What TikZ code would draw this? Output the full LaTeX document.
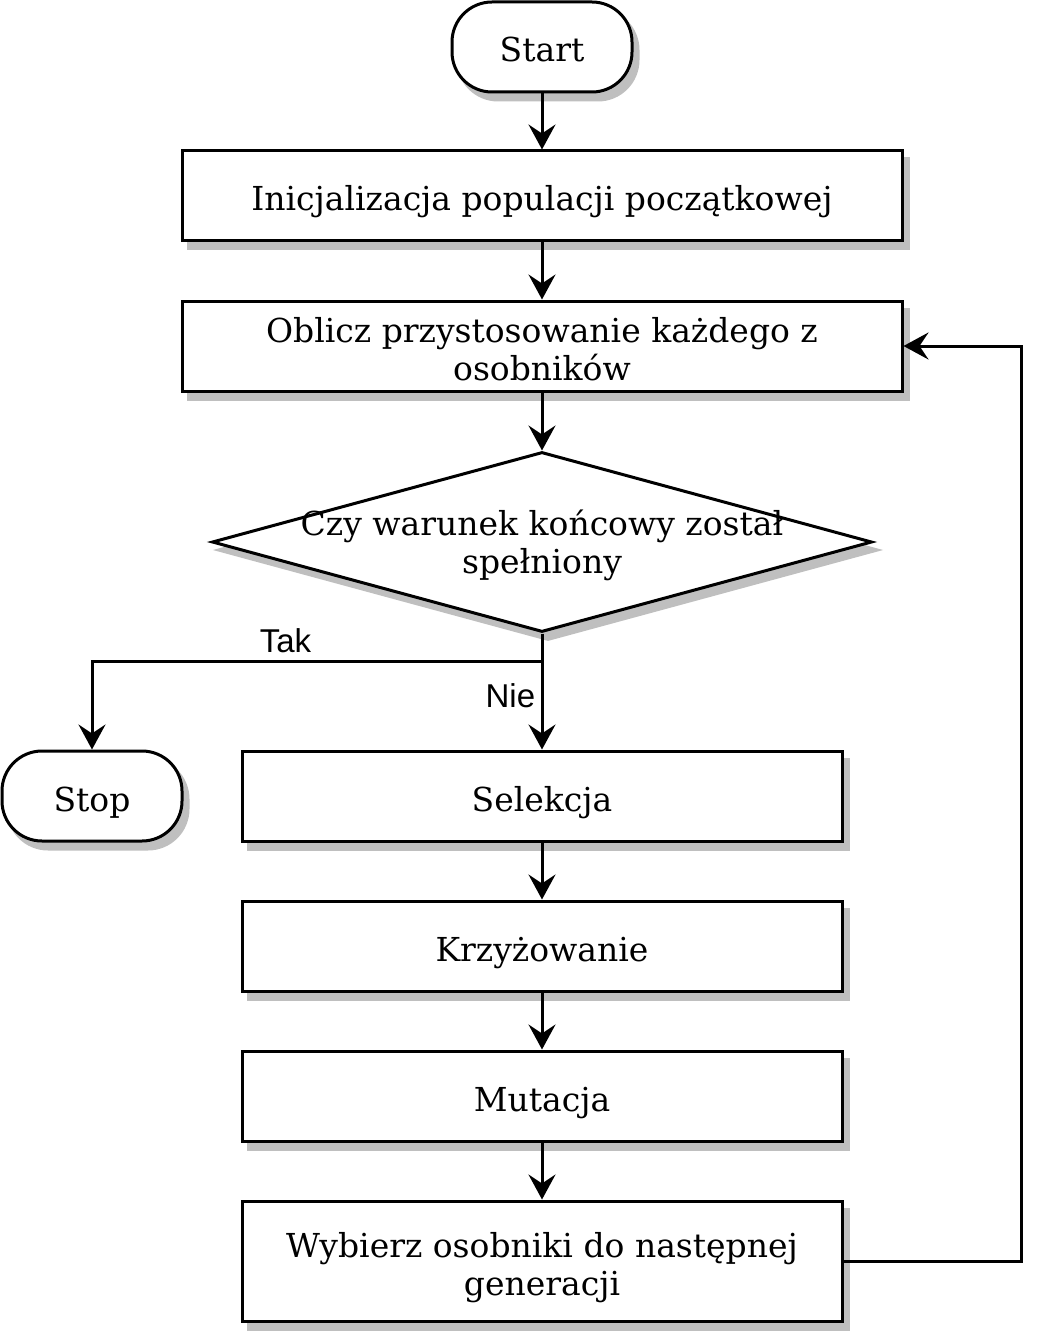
\documentclass[tikz,border=0pt]{standalone}
\usepackage{fontspec}
\setmainfont{DejaVu Serif}
\newfontfamily\labelfont{Liberation Sans}
\usepackage{tikz}
\usetikzlibrary{arrows.meta, shapes.geometric}
\definecolor{shadowgray}{HTML}{BFBFBF}

\begin{document}
\begin{tikzpicture}[x=1pt, y=-1pt, line width=3pt,
    font=\fontsize{33}{38}\selectfont,
    shadowed/.style={preaction={draw=shadowgray, fill=shadowgray, transform canvas={xshift=6pt, yshift=-8pt}}},
    oneline/.style={text height=30pt, text depth=0pt},
    twoline/.style={align=center, text height=68pt, text depth=0pt},
    terminal/.style={draw, fill=white, shadowed, oneline, rounded corners=40pt, minimum width=180pt, minimum height=90pt, inner sep=0pt},
    process/.style={draw, fill=white, shadowed, oneline, minimum width=720pt, minimum height=90pt, inner sep=0pt},
    decision/.style={draw, fill=white, shadowed, diamond, minimum width=660pt, minimum height=180pt, inner sep=0pt},
    arr/.style={-{Stealth[length=25pt, width=27pt, inset=9pt]}},
    lbl/.style={font=\labelfont\fontsize{33}{38}\selectfont}]
    \useasboundingbox (0,0) rectangle (1047,1332);

    \node[terminal] (start) at (542,47) {Start};
    \node[process] (init) at (542,196) {Inicjalizacja populacji początkowej};
    \node[process, twoline] (fit) at (542,346) {Oblicz przystosowanie każdego z\\osobników};
    \node[decision] (cond) at (542,542) {};
    \node[twoline, text height=63pt] (condtext) at (cond) {Czy warunek końcowy został\\spełniony};
    \node[terminal] (stop) at (92,796) {Stop};
    \node[process, minimum width=600pt] (sel) at (542,796) {Selekcja};
    \node[process, minimum width=600pt] (cross) at (542,946) {Krzyżowanie};
    \node[process, minimum width=600pt] (mut) at (542,1096) {Mutacja};
    \node[process, twoline, minimum width=600pt, minimum height=120pt] (next) at (542,1261) {Wybierz osobniki do następnej\\generacji};

    \coordinate (split) at (542,661);
    \coordinate (loop) at (1021,346);

    \draw[arr] (start) -- (init);
    \draw[arr] (init) -- (fit);
    \draw[arr] (fit) -- (cond);
    \draw[arr] (cond) -- node[lbl, pos=0.54, left, xshift=-2pt] {Nie} (sel);
    \draw[arr] (split) -| node[lbl, pos=0.285, above, yshift=3pt] {Tak} (stop);
    \draw[arr] (sel) -- (cross);
    \draw[arr] (cross) -- (mut);
    \draw[arr] (mut) -- (next);
    \draw[arr] (next) -| (loop) -- (fit);
\end{tikzpicture}
\end{document}
